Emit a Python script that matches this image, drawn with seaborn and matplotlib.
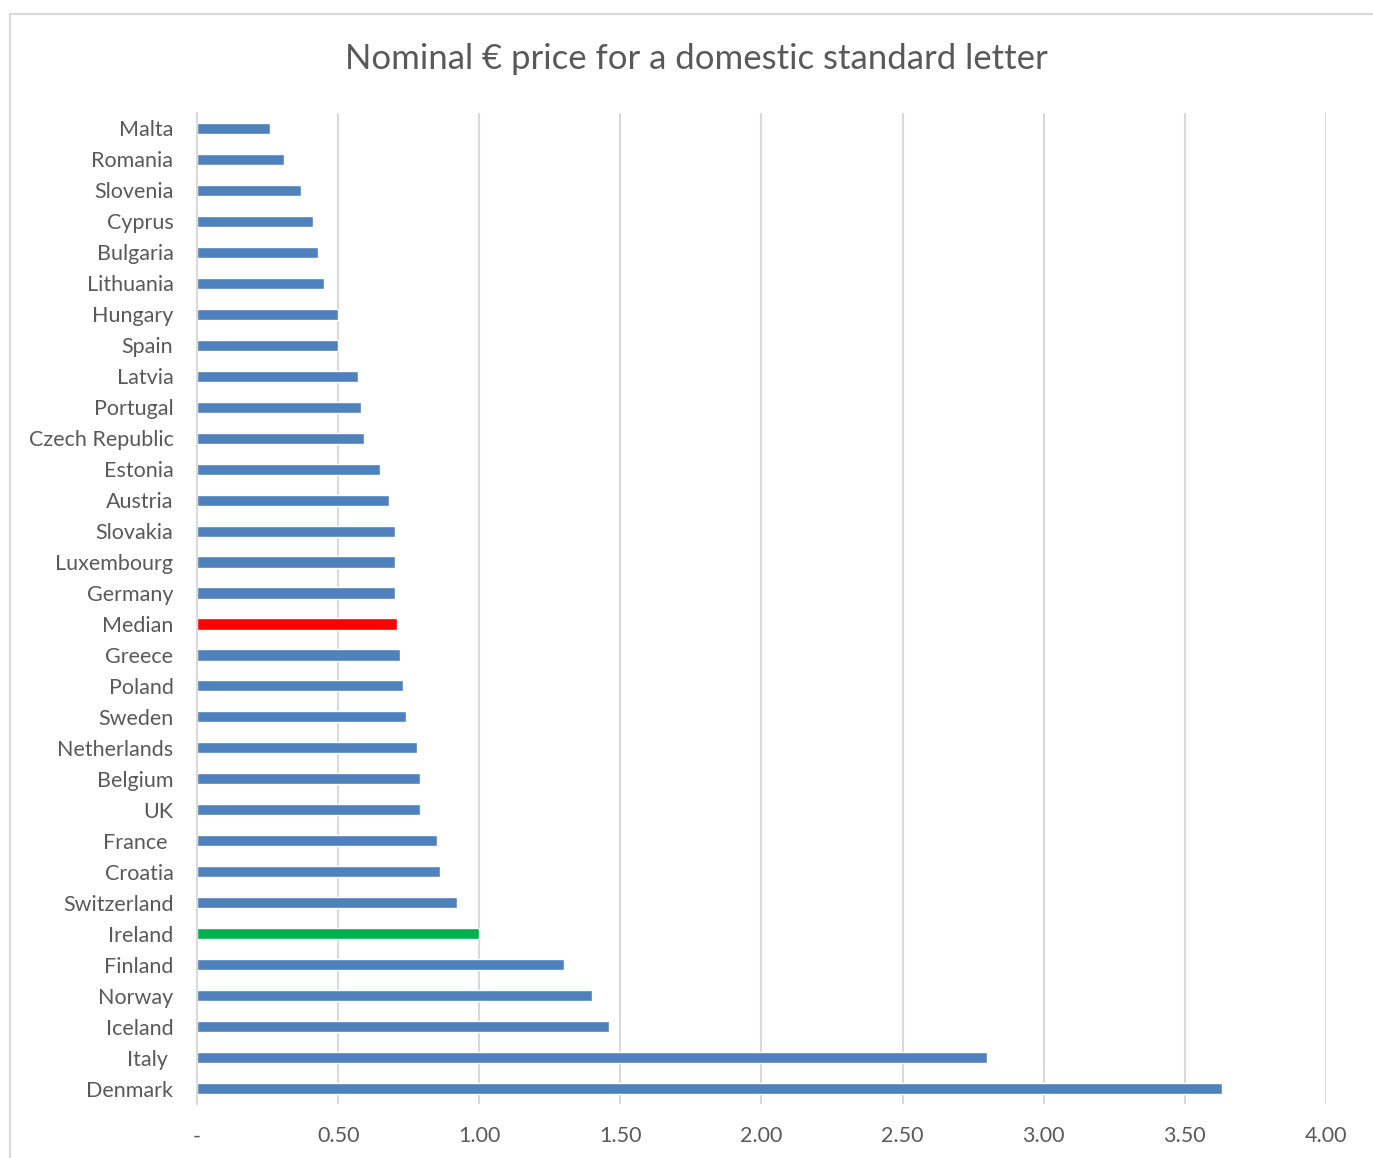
import matplotlib
matplotlib.use("Agg")
import matplotlib.pyplot as plt
import matplotlib.patches as mpatches
import seaborn as sns
import pandas as pd

countries = ["Malta", "Romania", "Slovenia", "Cyprus", "Bulgaria", "Lithuania",
             "Hungary", "Spain", "Latvia", "Portugal", "Czech Republic", "Estonia",
             "Austria", "Slovakia", "Luxembourg", "Germany", "Median", "Greece",
             "Poland", "Sweden", "Netherlands", "Belgium", "UK", "France ",
             "Croatia", "Switzerland", "Ireland", "Finland", "Norway", "Iceland",
             "Italy ", "Denmark"]
prices = [0.26, 0.31, 0.37, 0.41, 0.43, 0.45,
          0.50, 0.50, 0.57, 0.58, 0.59, 0.65,
          0.68, 0.70, 0.70, 0.70, 0.71, 0.72,
          0.73, 0.74, 0.78, 0.79, 0.79, 0.85,
          0.86, 0.92, 1.00, 1.30, 1.40, 1.46,
          2.80, 3.63]
xticks = [0, 0.5, 1.0, 1.5, 2.0, 2.5, 3.0, 3.5, 4.0]

df = pd.DataFrame({"country": countries, "price": prices})

blue = "#4F81BD"
colors = {c: blue for c in countries}
colors["Median"] = "#FF0000"
colors["Ireland"] = "#00B050"

sns.set_style("white")
plt.rcParams["font.family"] = ["Lato", "DejaVu Sans"]
text_col = "#595959"

fig = plt.figure(figsize=(13.73, 11.58), dpi=100)
ax = fig.add_axes([197 / 1373, 1 - 1104 / 1158, (1326 - 197) / 1373, (1104 - 113) / 1158])

# chart border like the excel chart area
fig.patches.append(mpatches.Rectangle((10 / 1373, -0.05), 1.1, 1 - 14 / 1158 + 0.05,
                                      transform=fig.transFigure, fill=False,
                                      edgecolor="#D9D9D9", linewidth=1.5))

sns.barplot(data=df, x="price", y="country", hue="country", palette=colors,
            orient="h", width=0.36, legend=False, ax=ax, saturation=1)

ax.set_xlim(0, 4)
ax.set_xticks(xticks)
ax.set_xticklabels(["-" if v == 0 else f"{v:.2f}" for v in xticks])
ax.grid(axis="x", color="#D9D9D9", linewidth=1.5)
ax.set_axisbelow(True)
for s in ["top", "right", "bottom"]:
    ax.spines[s].set_visible(False)
ax.spines["left"].set_color("#D9D9D9")
ax.spines["left"].set_linewidth(1.5)
ax.tick_params(axis="y", length=0, pad=17, labelsize=15.5, labelcolor=text_col)
ax.tick_params(axis="x", length=0, pad=16, labelsize=15.5, labelcolor=text_col)
ax.set_xlabel("")
ax.set_ylabel("")

fig.text(696 / 1373, 1 - 59 / 1158, "Nominal € price for a domestic standard letter",
         ha="center", va="center", fontsize=25, color=text_col)

fig.savefig("out.png", dpi=100)
